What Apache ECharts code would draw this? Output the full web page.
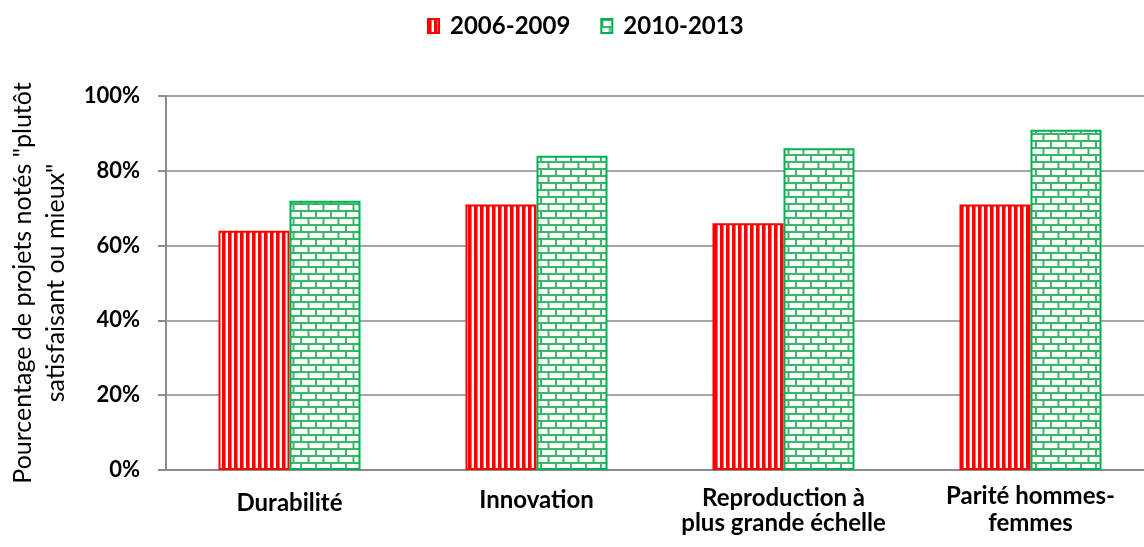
<!DOCTYPE html>
<html>
<head>
<meta charset="utf-8">
<script src="https://cdn.jsdelivr.net/npm/echarts@6/dist/echarts.min.js"></script>
<style>html,body{margin:0;padding:0;background:#fff}#c{width:1144px;height:547px}</style>
</head>
<body>
<div id="c"></div>
<script>
const categories = ['Durabilité', 'Innovation', 'Reproduction à\nplus grande échelle', 'Parité hommes-\nfemmes'];
const seriesNames = ['2006-2009', '2010-2013'];
const values2006 = [0.64, 0.71, 0.66, 0.71];
const values2010 = [0.72, 0.84, 0.86, 0.91];
const yTitle = 'Pourcentage de projets notés "plutôt\nsatisfaisant ou mieux"';

function stripePattern() {
  const c = document.createElement('canvas');
  c.width = 6; c.height = 6;
  const g = c.getContext('2d');
  g.fillStyle = '#ffffff'; g.fillRect(0, 0, 6, 6);
  g.fillStyle = '#FF0000'; g.fillRect(0, 0, 3.6, 6);
  return c;
}
function brickPattern() {
  const c = document.createElement('canvas');
  c.width = 15; c.height = 14;
  const g = c.getContext('2d');
  g.fillStyle = '#ffffff'; g.fillRect(0, 0, 15, 14);
  g.fillStyle = '#38B866';
  g.fillRect(0, 0, 15, 2);
  g.fillRect(0, 7, 15, 2);
  g.fillRect(0, 0, 2, 7);
  g.fillRect(7.5, 7, 2, 7);
  return c;
}

const font = 'Lato, "Open Sans", sans-serif';
// extra top offset of the first line of each category label
const firstLinePad = [14, 8, 4, 0];
const rich = {};
firstLinePad.forEach(function (p, i) {
  rich['p' + i] = {fontSize: 24, fontWeight: 'bold', color: '#000', fontFamily: font, lineHeight: 27, padding: [p, 0, 0, 0]};
});

const chart = echarts.init(document.getElementById('c'), null, {renderer: 'canvas'});
chart.setOption({
  animation: false,
  textStyle: {fontFamily: font},
  legend: {
    top: 14, left: 427, padding: 0,
    itemWidth: 11, itemHeight: 14, itemGap: 30,
    icon: 'rect',
    textStyle: {fontSize: 24, fontWeight: 'bold', color: '#000', fontFamily: font, padding: [0, 0, 0, 6]},
    data: seriesNames
  },
  grid: {left: 166, right: -10, top: 96, bottom: 77, containLabel: false, outerBoundsMode: 'none'},
  xAxis: {
    type: 'category', data: categories,
    axisLine: {lineStyle: {color: '#8C8C8C', width: 2}},
    axisTick: {show: false},
    axisLabel: {
      interval: 0, margin: 13, fontSize: 24, fontWeight: 'bold', color: '#000', lineHeight: 27,
      formatter: function (v, i) {
        const lines = v.split('\n');
        lines[0] = '{p' + i + '|' + lines[0] + '}';
        return lines.join('\n');
      },
      rich: rich
    }
  },
  yAxis: {
    type: 'value', min: 0, max: 1, interval: 0.2,
    name: yTitle, nameLocation: 'middle', nameRotate: 90, nameGap: 92,
    nameTextStyle: {fontSize: 25, color: '#000', lineHeight: 33, fontFamily: font},
    axisLine: {show: true, lineStyle: {color: '#8C8C8C', width: 2}},
    axisTick: {show: true, length: 8, lineStyle: {color: '#8C8C8C', width: 2}},
    axisLabel: {
      fontSize: 22, fontWeight: 'bold', color: '#000', margin: 26,
      formatter: function (v) { return Math.round(v * 100) + '%'; }
    },
    splitLine: {lineStyle: {color: '#A6A6A6', width: 2}}
  },
  series: [
    {
      name: seriesNames[0], type: 'bar', data: values2006,
      barWidth: 71, barGap: '0%',
      itemStyle: {color: {image: stripePattern(), repeat: 'repeat'}, borderColor: '#FF0000', borderWidth: 2}
    },
    {
      name: seriesNames[1], type: 'bar', data: values2010,
      barWidth: 71, barGap: '0%',
      itemStyle: {color: {image: brickPattern(), repeat: 'repeat'}, borderColor: '#00B050', borderWidth: 2}
    }
  ]
});
</script>
</body>
</html>
